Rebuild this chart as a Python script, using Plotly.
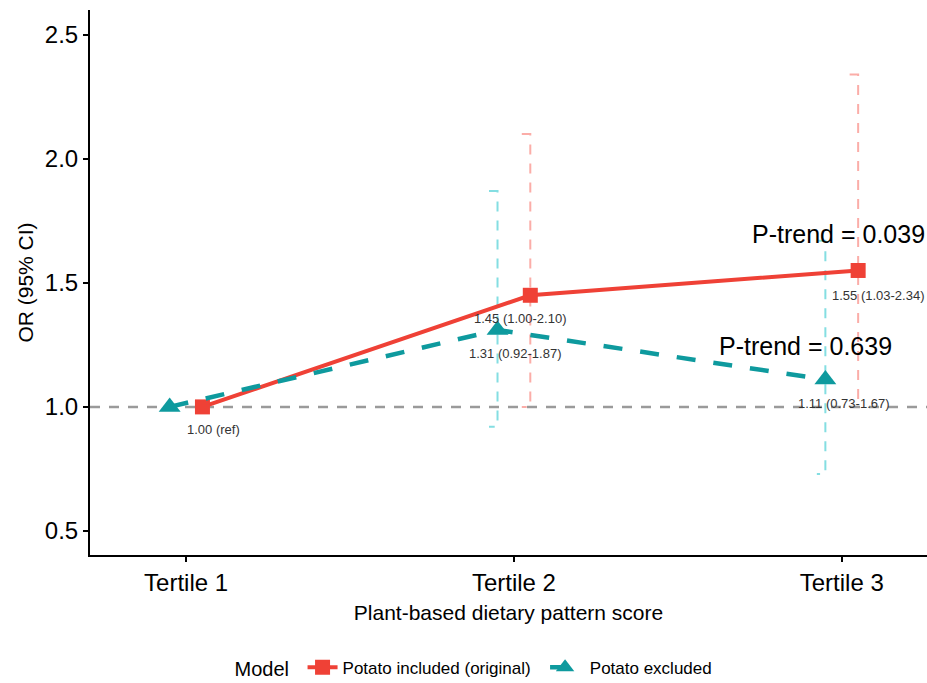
import plotly.graph_objects as go

categories = ["Tertile 1", "Tertile 2", "Tertile 3"]
models = ["Potato included (original)", "Potato excluded"]

or_incl = [1.00, 1.45, 1.55]
lo_incl = [1.00, 1.00, 1.03]
hi_incl = [1.00, 2.10, 2.34]

or_excl = [1.00, 1.31, 1.11]
lo_excl = [1.00, 0.92, 0.73]
hi_excl = [1.00, 1.87, 1.67]

labels_incl = ["1.00 (ref)", "1.45 (1.00-2.10)", "1.55 (1.03-2.34)"]
labels_excl = ["", "1.31 (0.92-1.87)", "1.11 (0.73-1.67)"]
ptrend = ["P-trend = 0.039", "P-trend = 0.639"]

RED = "#EF4136"
RED_L = "#FBADA8"
TEAL = "#0E9A9E"
TEAL_L = "#84DEE2"
FONT = "Liberation Sans, Arial, sans-serif"

dodge = 0.05
cap = 0.026
base = [1, 2, 3]
x_incl = [b + dodge for b in base]
x_excl = [b - dodge for b in base]

fig = go.Figure()

# reference line
fig.add_hline(y=1.0, line=dict(color="#9a9a9a", width=2.5, dash="10px,9px"), layer="below")


def err_path(xs, los, his):
    px, py = [], []
    for x, lo, hi in zip(xs, los, his):
        if hi == lo:
            continue
        px += [x - cap, x, x, x - cap, None]
        py += [hi, hi, lo, lo, None]
    return px, py


ex, ey = err_path(x_excl, lo_excl, hi_excl)
fig.add_trace(go.Scatter(x=ex, y=ey, mode="lines", line=dict(color=TEAL_L, width=2, dash="10px,9px"),
                         showlegend=False, hoverinfo="skip"))
rx, ry = err_path(x_incl, lo_incl, hi_incl)
fig.add_trace(go.Scatter(x=rx, y=ry, mode="lines", line=dict(color=RED_L, width=2, dash="10px,9px"),
                         showlegend=False, hoverinfo="skip"))

fig.add_trace(go.Scatter(x=x_incl, y=or_incl, mode="lines+markers", name=models[0] + "\u00a0\u00a0",
                         line=dict(color=RED, width=4),
                         marker=dict(symbol="square", size=15, color=RED)))
fig.add_trace(go.Scatter(x=x_excl, y=or_excl, mode="lines+markers", name="\u00a0" + models[1],
                         line=dict(color=TEAL, width=4.5, dash="19px,18px"),
                         marker=dict(symbol="triangle-up", size=19, color=TEAL)))

# value labels
shift_incl = [(11, -23), (-10, -23), (20, -25)]
shift_excl = [(0, 0), (18, -23), (19, -24)]
for x, y, t, (dx, dy) in zip(x_incl, or_incl, labels_incl, shift_incl):
    if t:
        fig.add_annotation(x=x, y=y, text=t, showarrow=False, xshift=dx, yshift=dy,
                           font=dict(size=13, color="#333333", family=FONT))
for x, y, t, (dx, dy) in zip(x_excl, or_excl, labels_excl, shift_excl):
    if t:
        fig.add_annotation(x=x, y=y, text=t, showarrow=False, xshift=dx, yshift=dy,
                           font=dict(size=13, color="#333333", family=FONT))

# p-trend labels
fig.add_annotation(x=3, y=or_incl[2], text=ptrend[0], showarrow=False, xshift=-3, yshift=36,
                   font=dict(size=25, color="black", family=FONT))
fig.add_annotation(x=3, y=or_excl[2], text=ptrend[1], showarrow=False, xshift=-36, yshift=34,
                   font=dict(size=25, color="black", family=FONT))

fig.update_layout(
    width=927, height=683,
    paper_bgcolor="white", plot_bgcolor="white",
    margin=dict(l=90, r=0, t=10, b=128, autoexpand=False),
    font=dict(family=FONT, color="black"),
    xaxis=dict(range=[0.707, 3.26], tickvals=base, ticktext=categories, automargin=False,
               showgrid=False, zeroline=False, showline=True, linecolor="black", linewidth=2,
               ticks="outside", ticklen=5, tickwidth=1.5, tickcolor="black",
               tickfont=dict(size=24, color="black"),
               title=dict(text="Plant-based dietary pattern score", font=dict(size=21), standoff=11)),
    yaxis=dict(range=[0.403, 2.60], tickvals=[0.5, 1.0, 1.5, 2.0, 2.5],
               ticktext=["0.5", "1.0", "1.5", "2.0", "2.5"], automargin=False,
               showgrid=False, zeroline=False, showline=True, linecolor="black", linewidth=2,
               ticks="outside", ticklen=5, tickwidth=1.5, tickcolor="black",
               tickfont=dict(size=24, color="black"),
               title=dict(text="OR (95% CI)", font=dict(size=21), standoff=5)),
    legend=dict(orientation="h", x=0.46, xanchor="center", y=-0.207, yanchor="middle",
                title=dict(text="Model ", font=dict(size=20)),
                font=dict(size=17), itemwidth=30),
    showlegend=True,
)

fig.write_html("out.html", config={"displayModeBar": False},
               post_script="document.body.style.margin='0';document.body.style.overflow='hidden';")
